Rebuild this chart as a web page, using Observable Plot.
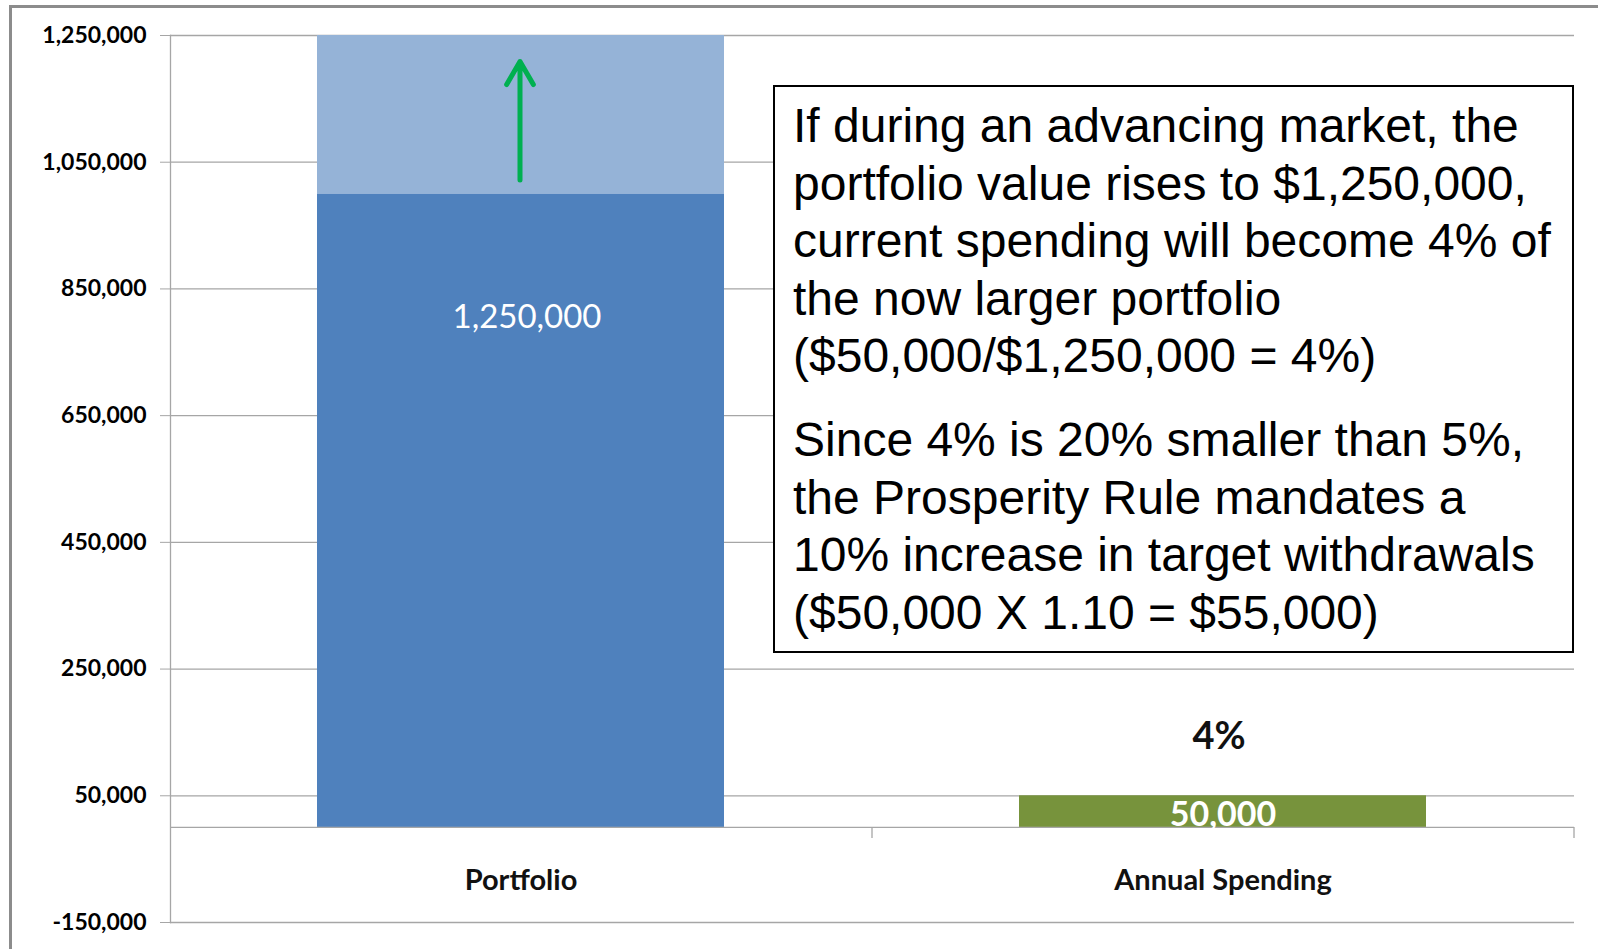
<!DOCTYPE html>
<html>
<head>
<meta charset="utf-8">
<script src="https://cdn.jsdelivr.net/npm/d3@7"></script>
<script src="https://cdn.jsdelivr.net/npm/@observablehq/plot@0.6"></script>
<style>
  html, body { margin: 0; padding: 0; background: #fff; }
  #wrap { position: relative; width: 1598px; height: 949px; overflow: hidden; }
  #frame { position: absolute; left: 9px; top: 5px; right: -10px; bottom: -10px;
           border-left: 3px solid #8c8c8c; border-top: 3px solid #8c8c8c; pointer-events: none; }
  #note { position: absolute; left: 773px; top: 85px; width: 797px; height: 564px;
          border: 2px solid #000; background: #fff; box-sizing: content-box;
          font-family: "Liberation Sans", Arial, sans-serif; font-size: 48px; line-height: 57.6px;
          color: #000; padding: 0; white-space: nowrap; }
  #note p { margin: 0; padding-left: 18px; }
  #note p.first { padding-top: 10px; }
  #note p.second { padding-top: 26px; }
  #chart { position: absolute; left: 0; top: 0; }
</style>
</head>
<body>
<div id="wrap">
  <div id="chart"></div>
  <div id="frame"></div>
  <div id="note">
    <p class="first">If during an advancing market, the<br>portfolio value rises to $1,250,000,<br>current spending will become 4% of<br>the now larger portfolio<br>($50,000/$1,250,000 = 4%)</p>
    <p class="second">Since 4% is 20% smaller than 5%,<br>the Prosperity Rule mandates a<br>10% increase in target withdrawals<br>($50,000 X 1.10 = $55,000)</p>
  </div>
</div>
<script>
// ---- data ----
const categories = ["Portfolio", "Annual Spending"];
const segments = ["Original portfolio", "Market gain", "Annual spending"];
const segmentCategory = ["Portfolio", "Portfolio", "Annual Spending"];
const segmentValues = [1000000, 250000, 50000];
const segmentColors = ["#4f81bd", "#95b3d7", "#77933c"];
const totals = [1250000, 50000];
const yTicks = [-150000, 50000, 250000, 450000, 650000, 850000, 1050000, 1250000];
const yDomain = [-150000, 1250000];

// ---- derived ----
const rows = segments.map((s, i) => ({segment: s, category: segmentCategory[i], value: segmentValues[i]}));
const totalRows = categories.map((c, i) => ({category: c, total: totals[i]}));
const fmt0 = d3.format(",");
const fmt = d => fmt0(d).replace("\u2212", "-");
const spendingShare = totals[1] / totals[0];

const W = 1598, H = 949, ML = 170, MR = 24, MT = 35, MB = 27;
const step = (W - ML - MR) / categories.length;

const chart = Plot.plot({
  width: W, height: H,
  marginLeft: ML, marginRight: MR, marginTop: MT, marginBottom: MB,
  style: {fontFamily: "Lato, sans-serif", background: "transparent", color: "#000"},
  x: {domain: categories, paddingInner: 0.42, paddingOuter: 0.21, axis: null},
  y: {domain: yDomain, axis: null},
  color: {domain: segments, range: segmentColors},
  marks: [
    Plot.gridY(yTicks, {stroke: "#a6a6a6", strokeOpacity: 1, strokeWidth: 1.3}),
    Plot.barY(rows, {x: "category", y: "value", fill: "segment"}),
    Plot.ruleY([0], {stroke: "#a6a6a6", strokeWidth: 1.3}),
    // category divider ticks below the zero line
    Plot.ruleX(categories, {x: d => d, y1: 0, y2: 0, stroke: "#a6a6a6", strokeWidth: 1.3, dx: step / 2, insetBottom: -11}),
    Plot.frame({anchor: "left", stroke: "#a6a6a6", strokeWidth: 1.3}),
    Plot.axisY(yTicks, {tickSize: 10, tickPadding: 14, tickFormat: fmt, fontSize: 23, fontWeight: "bold", stroke: "#a6a6a6", label: null}),
    // category labels
    Plot.text(categories, {x: d => d, y: 0, text: d => d, dy: 53, fontSize: 29, fontWeight: "bold", fill: "#111"}),
    // value labels
    Plot.text(totalRows.slice(0, 1), {x: "category", y: segmentValues[0], text: d => fmt(d.total), dy: 124, dx: 6, fontSize: 33, fill: "#fff"}),
    Plot.text(totalRows.slice(1), {x: "category", y: d => d.total / 2, text: d => fmt(d.total), dy: 3, fontSize: 34, fontWeight: "bold", fill: "#fff"}),
    Plot.text(totalRows.slice(1), {x: "category", y: "total", text: () => d3.format(".0%")(spendingShare), dy: -59, dx: -4, fontSize: 38, fontWeight: "bold", fill: "#111"}),
    // green arrow showing the rise
    Plot.arrow([{category: "Portfolio", from: segmentValues[0], to: totals[0]}], {
      x1: "category", x2: "category", y1: "from", y2: "to",
      stroke: "#00b050", strokeWidth: 5, insetStart: 14, insetEnd: 26, dx: -1
    })
  ]
});
document.getElementById("chart").appendChild(chart);
</script>
</body>
</html>
